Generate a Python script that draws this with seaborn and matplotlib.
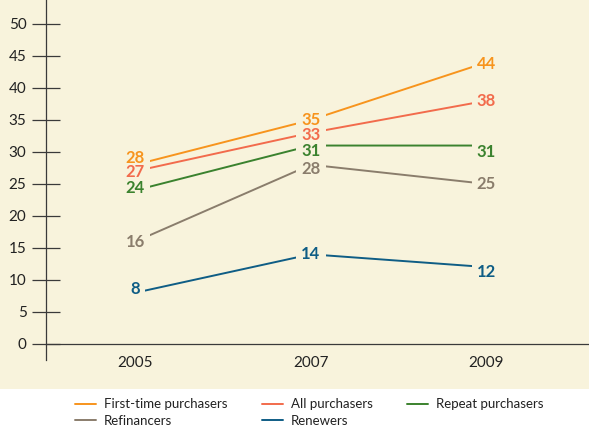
import pandas as pd
import matplotlib.pyplot as plt
import matplotlib.patches as mpatches
import seaborn as sns

# Data
years = [2005, 2007, 2009]
first_time = [28, 35, 44]
all_purchasers = [27, 33, 38]
repeat = [24, 31, 31]
refinancers = [16, 28, 25]
renewers = [8, 14, 12]

series_names = ["First-time purchasers", "All purchasers", "Repeat purchasers",
                "Refinancers", "Renewers"]
series_values = [first_time, all_purchasers, repeat, refinancers, renewers]
series_colors = ["#f7941d", "#f26b4c", "#3b822e", "#8a7d6c", "#0f5d85"]

cream = "#f8f3dc"

# small vertical nudges (pixels) so value labels don't collide
nudge = {(0, 0): 7, (1, 0): -1, (2, 0): 2, (4, 0): 4,
         (1, 1): -2, (2, 1): -5, (3, 1): -4,
         (0, 2): -2, (2, 2): -6, (4, 2): -5}

rows = []
for name, vals in zip(series_names, series_values):
    for yr, v in zip(years, vals):
        rows.append({"year": yr, "value": v, "series": name})
df = pd.DataFrame(rows)

sns.set_style("white")
plt.rcParams["font.family"] = ["Lato", "DejaVu Sans"]

fig = plt.figure(figsize=(5.89, 4.32), dpi=100)
fig.patch.set_facecolor("white")
fig.patches.append(mpatches.Rectangle((0.0, 0.1), 1.0, 0.9, transform=fig.transFigure,
                                      facecolor=cream, edgecolor="none", zorder=-10))
ax = fig.add_axes([0.078, 0.167, 0.922, 0.833])
ax.set_facecolor(cream)

palette = dict(zip(series_names, series_colors))
sns.lineplot(data=df, x="year", y="value", hue="series", palette=palette,
             hue_order=series_names, linewidth=1.4, ax=ax, legend=False)
for ln in ax.lines:
    ln.set_zorder(2)

# value labels on the data points; a cream box underneath hides the line ends
for i, (name, vals, col) in enumerate(zip(series_names, series_values, series_colors)):
    for j, (yr, v) in enumerate(zip(years, vals)):
        dy = nudge.get((i, j), 0) * 0.72
        kw = dict(xy=(yr, v), xytext=(0, dy), textcoords="offset points",
                  fontsize=12, fontweight="bold", ha="center", va="center")
        mask = ax.annotate(str(v), color=(0, 0, 0, 0),
                           bbox=dict(boxstyle="square,pad=0.3", facecolor=cream,
                                     edgecolor="none"), **kw)
        mask.set_zorder(4)
        lab = ax.annotate(str(v), color=col, **kw)
        lab.set_zorder(6)

ax.set_xlim(2003.98, 2010.17)
ax.set_ylim(-2.5, 53.75)
ax.set_yticks(range(0, 51, 5))
ax.set_xticks(years)
ax.set_xlabel("")
ax.set_ylabel("")

for s in ["top", "right"]:
    ax.spines[s].set_visible(False)
ax.spines["bottom"].set_position(("data", 0))
ax.spines["bottom"].set_color("#3a3a3a")
ax.spines["left"].set_color("#3a3a3a")
ax.spines["bottom"].set_linewidth(0.9)
ax.spines["left"].set_linewidth(0.9)

ax.tick_params(axis="y", left=True, direction="inout", length=20, width=0.9,
               color="#3a3a3a", labelsize=11, labelcolor="#222222", pad=4)
ax.tick_params(axis="x", bottom=False, length=0, labelsize=11, labelcolor="#222222", pad=9)

handles = [plt.Line2D([], [], color=c, linewidth=1.4) for c in series_colors]
# ncol=3 fills column-wise, so reorder to get the reference row layout
order = [0, 3, 1, 4, 2]
fig.legend([handles[i] for i in order], [series_names[i] for i in order],
           loc="center", bbox_to_anchor=(0.525, 0.045), ncol=3, frameon=False,
           fontsize=9.5, handlelength=1.6, handletextpad=0.6, columnspacing=2.6,
           labelspacing=0.35, labelcolor="#222222")

plt.savefig("out.png", dpi=100)
